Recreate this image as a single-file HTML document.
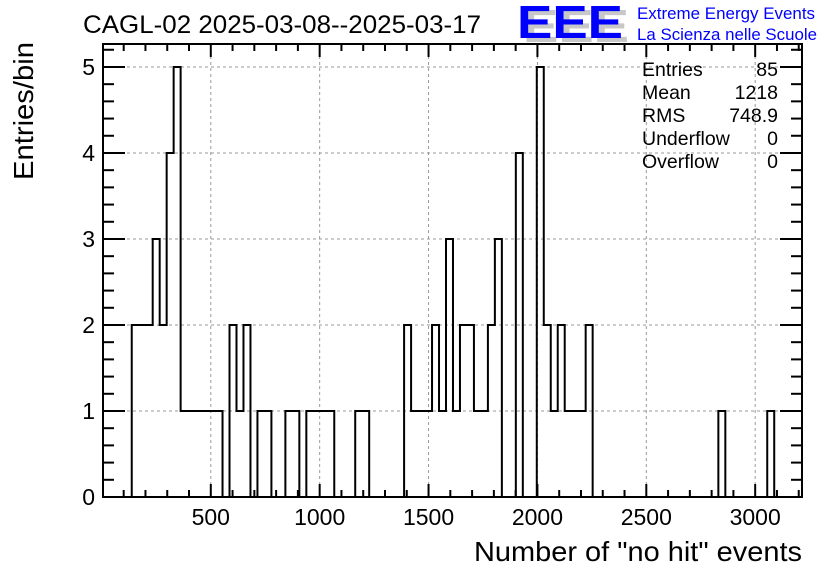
<!DOCTYPE html>
<html><head><meta charset="utf-8"><style>
html,body{margin:0;padding:0;background:#fff;}
svg{display:block;font-family:"Liberation Sans",Arial,sans-serif;}
</style></head><body>
<svg id="chart" width="836" height="572" viewBox="0 0 836 572" xmlns="http://www.w3.org/2000/svg">
<rect width="836" height="572" fill="#fff"/>
<g id="grid"></g>
<g id="hist"></g>
<g id="axes"></g>
<text x="83" y="33" font-size="25" textLength="398" lengthAdjust="spacingAndGlyphs">CAGL-02 2025-03-08--2025-03-17</text>
<g font-size="46" font-weight="bold">
<text x="523" y="42" fill="#c8c8c8" textLength="106" lengthAdjust="spacingAndGlyphs">EEE</text>
<text x="517" y="38" fill="#0000ff" textLength="106" lengthAdjust="spacingAndGlyphs">EEE</text>
</g>
<text x="637" y="19" font-size="17" fill="#0000ff" textLength="178" lengthAdjust="spacingAndGlyphs">Extreme Energy Events</text>
<text x="637" y="40" font-size="17" fill="#0000ff" textLength="180" lengthAdjust="spacingAndGlyphs">La Scienza nelle Scuole</text>
<g font-size="19.5">
<text x="642" y="76">Entries</text><text x="778" y="76" text-anchor="end">85</text>
<text x="642" y="99">Mean</text><text x="778" y="99" text-anchor="end">1218</text>
<text x="642" y="122">RMS</text><text x="778" y="122" text-anchor="end">748.9</text>
<text x="642" y="145">Underflow</text><text x="778" y="145" text-anchor="end">0</text>
<text x="642" y="168">Overflow</text><text x="778" y="168" text-anchor="end">0</text>
</g>
<text x="802" y="561" font-size="28" text-anchor="end" textLength="328" lengthAdjust="spacingAndGlyphs">Number of "no hit" events</text>
<text transform="translate(33,180) rotate(-90)" font-size="28" text-anchor="start" textLength="138" lengthAdjust="spacingAndGlyphs">Entries/bin</text>
</svg>
<script>
const binStart = 137;
const binWidth = 32.07;
const counts = [2,2,2,3,2,4,5,1,1,1,1,1,1,0,2,1,2,0,1,1,0,0,1,1,0,1,1,1,1,0,0,0,1,1,0,0,0,0,0,2,1,1,1,2,1,3,1,2,2,1,1,2,3,0,0,4,0,0,5,2,1,2,1,1,1,2,0,0,0,0,0,0,0,0,0,0,0,0,0,0,0,0,0,0,1,0,0,0,0,0,0,1,0];
const xTicks = [500,1000,1500,2000,2500,3000];
const yTicks = [0,1,2,3,4,5];
const X0=103,X1=802,Y0=497,Y1=44;
const xmin=5,xmax=3215,ymin=0,ymax=5.267;
const sx=v=>X0+(v-xmin)*(X1-X0)/(xmax-xmin);
const sy=v=>Y0-(v-ymin)*(Y0-Y1)/(ymax-ymin);
const NS="http://www.w3.org/2000/svg";
function mk(tag,attrs,parent){const e=document.createElementNS(NS,tag);for(const k in attrs)e.setAttribute(k,attrs[k]);parent.appendChild(e);return e;}
const grid=document.getElementById('grid'),axes=document.getElementById('axes'),hist=document.getElementById('hist');
xTicks.forEach(v=>{const l=mk('line',{x1:sx(v),x2:sx(v),y1:Y0,y2:Y1,stroke:'#999','stroke-dasharray':'3,3','stroke-width':1},grid);

});
yTicks.forEach(v=>{const l=mk('line',{x1:X0,x2:X1,y1:sy(v),y2:sy(v),stroke:'#999','stroke-dasharray':'3,3','stroke-width':1},grid);

});
let d='M'+sx(binStart)+','+sy(0);
counts.forEach((c,i)=>{const a=sx(binStart+i*binWidth),b=sx(binStart+(i+1)*binWidth);d+=' L'+a+','+sy(c)+' L'+b+','+sy(c);});
d+=' L'+sx(binStart+counts.length*binWidth)+','+sy(0);
const p=mk('path',{d:d,fill:'none',stroke:'#000','stroke-width':2},hist);


const fr=mk('rect',{x:X0,y:Y1,width:X1-X0,height:Y0-Y1,fill:'none',stroke:'#000','stroke-width':2},axes);


for(let v=0;v<=xmax;v+=100){if(v<xmin)continue;const maj=v%500===0;const len=maj?13:7;const x=sx(v);
const t1=mk('line',{x1:x,x2:x,y1:Y0,y2:Y0-len,stroke:'#000','stroke-width':2},axes);


const t2=mk('line',{x1:x,x2:x,y1:Y1,y2:Y1+len,stroke:'#000','stroke-width':2},axes);

}
xTicks.forEach(v=>{const t=mk('text',{x:sx(v),y:Y0+28,'font-size':23,'text-anchor':'middle'},axes);t.textContent=v;

});
for(let k=0;k<=26;k++){const v=k*0.2;if(v>ymax)break;const maj=k%5===0;const len=maj?22:11;const y=sy(v);
const t1=mk('line',{x1:X0,x2:X0+len,y1:y,y2:y,stroke:'#000','stroke-width':2},axes);


const t2=mk('line',{x1:X1,x2:X1-len,y1:y,y2:y,stroke:'#000','stroke-width':2},axes);

}
yTicks.forEach(v=>{const t=mk('text',{x:X0-8,y:sy(v)+8,'font-size':23,'text-anchor':'end'},axes);t.textContent=v;

});
</script>
</body></html>
